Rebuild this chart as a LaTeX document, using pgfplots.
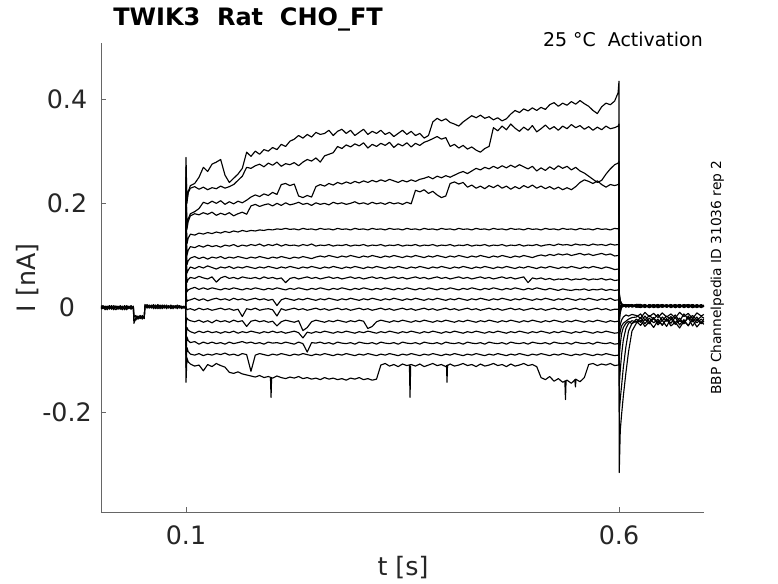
\documentclass[border=0pt]{standalone}
\usepackage{pgfplots}
\pgfplotsset{compat=1.18}
\usepackage{pgfplotstable}
\usepackage{fontspec}
\setmainfont{DejaVu Sans}

\pgfplotstableread{
t p1 p2 p3 p4
0.0018 0.002 -0.003 0.004 -0.001
0.0040 -0.002 0.003 -0.001 0.004
0.0065 0.003 -0.004 0.002 0.000
0.0090 -0.001 0.002 -0.004 0.003
0.0115 0.004 0.000 0.003 -0.003
0.0140 -0.003 0.004 -0.002 0.002
0.0165 0.001 -0.002 0.004 -0.004
0.0190 -0.004 0.003 0.000 0.003
0.0215 0.002 -0.003 0.003 -0.002
0.0240 -0.002 0.004 -0.003 0.001
0.0265 0.003 -0.001 0.002 -0.004
0.0290 -0.003 0.002 -0.004 0.004
0.0315 0.004 -0.004 0.001 -0.001
0.0340 -0.001 0.003 -0.002 0.002
0.0365 0.002 -0.002 0.004 -0.003
0.0392 -0.002 0.001 -0.001 0.003
0.0398 -0.030 -0.018 -0.022 -0.016
0.0420 -0.020 -0.015 -0.024 -0.018
0.0445 -0.016 -0.022 -0.017 -0.021
0.0470 -0.021 -0.016 -0.020 -0.015
0.0495 -0.017 -0.020 -0.015 -0.022
0.0518 -0.019 -0.016 -0.021 -0.017
0.0525 0.006 0.002 0.005 0.001
0.0550 0.001 0.006 -0.001 0.004
0.0575 0.005 -0.001 0.004 0.000
0.0600 -0.001 0.004 0.001 0.005
0.0625 0.004 0.000 0.006 -0.002
0.0650 0.000 0.005 -0.002 0.003
0.0675 0.006 -0.002 0.003 0.001
0.0700 -0.002 0.003 0.000 0.005
0.0725 0.003 0.001 0.005 -0.002
0.0750 0.000 0.005 -0.001 0.003
0.0775 0.005 -0.002 0.003 0.000
0.0800 -0.001 0.003 0.000 0.004
0.0825 0.004 0.000 0.005 -0.002
0.0850 0.000 0.004 -0.002 0.003
0.0875 0.003 -0.001 0.004 0.001
0.0900 -0.002 0.005 0.000 0.004
0.0925 0.004 0.001 0.003 -0.001
0.0950 0.000 0.003 -0.002 0.002
0.0975 0.003 -0.001 0.002 0.000
0.0995 0.000 0.000 0.000 0.000
}\pretab

\pgfplotstableread{
t a b c d e f g h i j k l m n o p q
0.0995 0.000 0.000 0.000 0.000 0.000 0.000 0.000 0.000 0.000 0.000 0.000 0.000 0.000 0.000 0.000 0.000 0.000
0.1000 0.288 0.270 0.250 0.230 0.210 0.180 0.150 0.120 0.090 0.060 0.030 0.002 -0.030 -0.060 -0.090 -0.115 -0.143
0.1010 0.205 0.200 0.160 0.150 0.122 0.100 0.082 0.066 0.048 0.030 0.012 -0.004 -0.020 -0.038 -0.056 -0.076 -0.096
0.1025 0.222 0.220 0.170 0.165 0.133 0.110 0.090 0.072 0.054 0.034 0.014 -0.003 -0.023 -0.043 -0.063 -0.084 -0.104
0.105 0.234 0.229 0.180 0.176 0.141 0.117 0.095 0.078 0.058 0.036 0.015 -0.002 -0.025 -0.046 -0.067 -0.089 -0.108
0.110 0.238 0.232 0.184 0.180 0.139 0.115 0.098 0.075 0.056 0.039 0.018 -0.005 -0.027 -0.049 -0.065 -0.091 -0.112
0.115 0.250 0.227 0.190 0.178 0.143 0.119 0.094 0.079 0.060 0.035 0.014 -0.001 -0.024 -0.045 -0.070 -0.088 -0.110
0.120 0.269 0.231 0.202 0.182 0.141 0.116 0.097 0.076 0.057 0.038 0.017 -0.004 -0.028 -0.048 -0.066 -0.092 -0.121
0.125 0.261 0.226 0.199 0.179 0.144 0.120 0.093 0.080 0.055 0.035 0.013 -0.002 -0.025 -0.045 -0.069 -0.089 -0.109
0.130 0.275 0.230 0.204 0.183 0.142 0.117 0.097 0.077 0.059 0.038 0.016 -0.005 -0.029 -0.048 -0.066 -0.091 -0.113
0.135 0.279 0.228 0.200 0.177 0.145 0.119 0.095 0.074 0.049 0.036 0.018 -0.003 -0.024 -0.046 -0.069 -0.088 -0.107
0.140 0.284 0.233 0.205 0.181 0.143 0.116 0.098 0.078 0.057 0.034 0.015 -0.001 -0.027 -0.049 -0.067 -0.090 -0.111
0.145 0.254 0.229 0.198 0.178 0.146 0.120 0.094 0.076 0.060 0.037 0.017 -0.004 -0.025 -0.046 -0.070 -0.087 -0.114
0.150 0.240 0.232 0.203 0.182 0.144 0.118 0.097 0.079 0.056 0.035 0.014 -0.002 -0.028 -0.048 -0.066 -0.091 -0.124
0.155 0.248 0.236 0.199 0.176 0.147 0.121 0.095 0.075 0.058 0.038 0.018 -0.005 -0.024 -0.045 -0.069 -0.089 -0.126
0.160 0.256 0.244 0.204 0.180 0.145 0.117 0.098 0.078 0.055 0.036 0.015 -0.003 -0.027 -0.049 -0.067 -0.092 -0.123
0.165 0.267 0.252 0.201 0.183 0.148 0.120 0.096 0.076 0.059 0.034 0.017 -0.017 -0.025 -0.046 -0.065 -0.088 -0.127
0.170 0.298 0.269 0.206 0.179 0.146 0.118 0.094 0.079 0.057 0.037 0.014 -0.002 -0.036 -0.048 -0.068 -0.090 -0.129
0.175 0.290 0.267 0.212 0.195 0.148 0.121 0.097 0.077 0.056 0.035 0.016 -0.004 -0.026 -0.045 -0.066 -0.122 -0.131
0.180 0.300 0.272 0.216 0.198 0.147 0.119 0.095 0.075 0.058 0.038 0.018 -0.001 -0.024 -0.047 -0.069 -0.091 -0.133
0.185 0.294 0.275 0.213 0.194 0.149 0.122 0.098 0.078 0.055 0.036 0.015 -0.005 -0.027 -0.049 -0.067 -0.088 -0.130
0.190 0.303 0.270 0.218 0.197 0.148 0.118 0.096 0.076 0.059 0.034 0.017 -0.003 -0.025 -0.046 -0.070 -0.090 -0.134
0.195 0.300 0.277 0.215 0.199 0.150 0.121 0.094 0.079 0.056 0.037 0.014 -0.002 -0.028 -0.048 -0.066 -0.092 -0.132
0.200 0.307 0.273 0.221 0.195 0.149 0.119 0.097 0.077 0.058 0.035 0.016 -0.004 -0.026 -0.045 -0.068 -0.089 -0.135
0.205 0.303 0.279 0.217 0.200 0.151 0.122 0.095 0.075 0.055 0.038 0.004 -0.016 -0.035 -0.048 -0.067 -0.091 -0.131
0.210 0.313 0.271 0.236 0.196 0.150 0.118 0.098 0.078 0.057 0.036 0.015 -0.002 -0.027 -0.046 -0.069 -0.088 -0.134
0.215 0.309 0.276 0.238 0.201 0.152 0.121 0.096 0.076 0.048 0.034 0.018 -0.005 -0.024 -0.049 -0.066 -0.090 -0.136
0.220 0.319 0.274 0.234 0.197 0.150 0.119 0.094 0.079 0.056 0.037 0.016 -0.003 -0.026 -0.047 -0.068 -0.092 -0.133
0.225 0.323 0.278 0.237 0.199 0.151 0.120 0.097 0.077 0.058 0.035 0.014 -0.001 -0.028 -0.045 -0.070 -0.089 -0.135
0.230 0.330 0.272 0.214 0.202 0.149 0.118 0.095 0.075 0.055 0.038 0.017 -0.004 -0.025 -0.048 -0.066 -0.091 -0.132
0.235 0.325 0.279 0.211 0.198 0.152 0.121 0.098 0.078 0.057 0.036 0.015 -0.002 -0.044 -0.058 -0.069 -0.088 -0.136
0.240 0.332 0.284 0.215 0.200 0.150 0.119 0.096 0.076 0.059 0.034 0.018 -0.005 -0.038 -0.047 -0.085 -0.090 -0.134
0.245 0.327 0.281 0.212 0.196 0.151 0.122 0.094 0.079 0.056 0.037 0.016 -0.003 -0.027 -0.049 -0.067 -0.092 -0.137
0.250 0.336 0.287 0.232 0.201 0.149 0.118 0.097 0.077 0.058 0.035 0.014 -0.001 -0.024 -0.046 -0.068 -0.089 -0.135
0.255 0.332 0.279 0.236 0.198 0.152 0.120 0.099 0.075 0.055 0.038 0.017 -0.004 -0.026 -0.048 -0.066 -0.091 -0.138
0.260 0.334 0.291 0.233 0.200 0.150 0.119 0.097 0.078 0.057 0.036 0.015 -0.002 -0.028 -0.045 -0.069 -0.088 -0.134
0.265 0.340 0.294 0.238 0.197 0.151 0.121 0.100 0.076 0.059 0.034 0.018 -0.005 -0.025 -0.047 -0.067 -0.090 -0.137
0.270 0.330 0.297 0.235 0.202 0.149 0.118 0.098 0.079 0.056 0.037 0.016 -0.003 -0.027 -0.049 -0.070 -0.092 -0.135
0.275 0.338 0.309 0.240 0.199 0.152 0.120 0.096 0.077 0.058 0.035 0.014 -0.001 -0.024 -0.046 -0.066 -0.089 -0.138
0.280 0.342 0.305 0.237 0.201 0.150 0.119 0.099 0.075 0.055 0.038 0.017 -0.004 -0.026 -0.048 -0.068 -0.091 -0.136
0.285 0.334 0.312 0.241 0.198 0.151 0.121 0.097 0.078 0.057 0.036 0.015 -0.002 -0.028 -0.045 -0.069 -0.088 -0.139
0.290 0.340 0.308 0.238 0.200 0.149 0.118 0.100 0.076 0.059 0.034 0.018 -0.005 -0.025 -0.047 -0.067 -0.090 -0.135
0.295 0.330 0.314 0.242 0.203 0.152 0.120 0.098 0.079 0.056 0.037 0.016 -0.003 -0.027 -0.049 -0.070 -0.092 -0.137
0.300 0.336 0.310 0.239 0.199 0.150 0.119 0.096 0.077 0.058 0.035 0.014 -0.001 -0.024 -0.046 -0.066 -0.089 -0.134
0.305 0.342 0.316 0.243 0.201 0.151 0.121 0.099 0.075 0.055 0.038 0.017 -0.004 -0.026 -0.048 -0.068 -0.091 -0.138
0.310 0.332 0.306 0.240 0.198 0.149 0.118 0.097 0.078 0.057 0.036 0.015 -0.002 -0.040 -0.045 -0.069 -0.088 -0.136
0.315 0.338 0.313 0.244 0.202 0.152 0.120 0.100 0.076 0.059 0.034 0.018 -0.005 -0.036 -0.047 -0.067 -0.090 -0.139
0.320 0.334 0.309 0.241 0.199 0.150 0.119 0.098 0.079 0.056 0.037 0.016 -0.003 -0.027 -0.049 -0.070 -0.092 -0.137
0.325 0.340 0.315 0.245 0.201 0.151 0.121 0.096 0.077 0.058 0.035 0.014 -0.001 -0.024 -0.046 -0.066 -0.089 -0.110
0.330 0.332 0.311 0.242 0.198 0.149 0.118 0.099 0.075 0.055 0.038 0.017 -0.004 -0.026 -0.048 -0.068 -0.091 -0.107
0.335 0.336 0.317 0.246 0.202 0.152 0.120 0.097 0.078 0.057 0.036 0.015 -0.002 -0.028 -0.045 -0.069 -0.088 -0.112
0.340 0.328 0.307 0.243 0.199 0.150 0.119 0.100 0.076 0.059 0.034 0.018 -0.005 -0.025 -0.047 -0.067 -0.090 -0.109
0.345 0.334 0.314 0.240 0.201 0.151 0.121 0.098 0.079 0.056 0.037 0.016 -0.003 -0.027 -0.049 -0.070 -0.092 -0.113
0.350 0.340 0.310 0.244 0.198 0.149 0.118 0.096 0.077 0.058 0.035 0.014 -0.001 -0.024 -0.046 -0.066 -0.089 -0.108
0.355 0.332 0.316 0.241 0.202 0.152 0.120 0.099 0.075 0.055 0.038 0.017 -0.004 -0.026 -0.048 -0.068 -0.091 -0.111
0.360 0.338 0.308 0.245 0.199 0.150 0.119 0.097 0.078 0.057 0.036 0.015 -0.002 -0.028 -0.045 -0.069 -0.088 -0.109
0.365 0.330 0.315 0.242 0.225 0.151 0.121 0.100 0.076 0.059 0.034 0.018 -0.005 -0.025 -0.047 -0.067 -0.090 -0.112
0.370 0.334 0.311 0.246 0.222 0.149 0.118 0.098 0.079 0.056 0.037 0.016 -0.003 -0.027 -0.049 -0.070 -0.092 -0.108
0.375 0.325 0.317 0.248 0.226 0.152 0.120 0.096 0.077 0.058 0.035 0.014 -0.001 -0.024 -0.046 -0.066 -0.089 -0.113
0.380 0.330 0.320 0.251 0.219 0.150 0.119 0.099 0.075 0.055 0.038 0.017 -0.004 -0.026 -0.048 -0.068 -0.091 -0.110
0.385 0.356 0.324 0.247 0.223 0.151 0.121 0.097 0.078 0.057 0.036 0.015 -0.002 -0.028 -0.045 -0.069 -0.088 -0.107
0.390 0.363 0.328 0.252 0.216 0.149 0.118 0.100 0.076 0.059 0.034 0.018 -0.005 -0.025 -0.047 -0.067 -0.090 -0.111
0.395 0.358 0.323 0.249 0.211 0.152 0.120 0.098 0.079 0.056 0.037 0.016 -0.003 -0.027 -0.049 -0.070 -0.092 -0.109
0.400 0.362 0.326 0.253 0.214 0.150 0.119 0.096 0.077 0.058 0.035 0.014 -0.001 -0.024 -0.046 -0.066 -0.089 -0.113
0.405 0.355 0.309 0.250 0.238 0.151 0.121 0.099 0.075 0.055 0.038 0.017 -0.004 -0.026 -0.048 -0.068 -0.091 -0.108
0.410 0.352 0.313 0.254 0.241 0.149 0.118 0.097 0.078 0.057 0.036 0.015 -0.002 -0.028 -0.045 -0.069 -0.088 -0.112
0.415 0.348 0.306 0.258 0.237 0.152 0.120 0.100 0.076 0.059 0.034 0.018 -0.005 -0.025 -0.047 -0.067 -0.090 -0.110
0.420 0.356 0.311 0.261 0.240 0.150 0.119 0.098 0.079 0.056 0.037 0.016 -0.003 -0.027 -0.049 -0.070 -0.092 -0.107
0.425 0.362 0.304 0.257 0.231 0.151 0.121 0.096 0.077 0.058 0.035 0.014 -0.001 -0.024 -0.046 -0.066 -0.089 -0.111
0.430 0.368 0.308 0.262 0.235 0.149 0.118 0.099 0.075 0.055 0.038 0.017 -0.004 -0.026 -0.048 -0.068 -0.091 -0.109
0.435 0.364 0.302 0.267 0.229 0.152 0.120 0.097 0.078 0.057 0.036 0.015 -0.002 -0.028 -0.045 -0.069 -0.088 -0.113
0.440 0.369 0.298 0.264 0.233 0.150 0.119 0.100 0.076 0.059 0.034 0.018 -0.005 -0.025 -0.047 -0.067 -0.090 -0.108
0.445 0.363 0.305 0.269 0.228 0.151 0.121 0.098 0.079 0.056 0.037 0.016 -0.003 -0.027 -0.049 -0.070 -0.092 -0.112
0.450 0.366 0.309 0.266 0.234 0.149 0.118 0.096 0.077 0.058 0.035 0.014 -0.001 -0.024 -0.046 -0.066 -0.089 -0.110
0.455 0.360 0.345 0.271 0.230 0.152 0.120 0.099 0.075 0.055 0.038 0.017 -0.004 -0.026 -0.048 -0.068 -0.091 -0.107
0.460 0.364 0.339 0.267 0.235 0.150 0.119 0.097 0.078 0.057 0.036 0.015 -0.002 -0.028 -0.045 -0.069 -0.088 -0.111
0.465 0.358 0.348 0.272 0.229 0.151 0.121 0.100 0.076 0.059 0.034 0.018 -0.005 -0.025 -0.047 -0.067 -0.090 -0.109
0.470 0.362 0.341 0.268 0.233 0.149 0.118 0.098 0.079 0.056 0.037 0.016 -0.003 -0.027 -0.049 -0.070 -0.092 -0.113
0.475 0.371 0.352 0.273 0.227 0.152 0.120 0.096 0.077 0.058 0.035 0.014 -0.001 -0.024 -0.046 -0.066 -0.089 -0.108
0.480 0.378 0.344 0.269 0.232 0.150 0.119 0.099 0.075 0.055 0.038 0.017 -0.004 -0.026 -0.048 -0.068 -0.091 -0.112
0.485 0.374 0.338 0.274 0.228 0.151 0.121 0.097 0.078 0.057 0.036 0.015 -0.002 -0.028 -0.045 -0.069 -0.088 -0.110
0.490 0.381 0.346 0.270 0.234 0.149 0.118 0.100 0.076 0.059 0.034 0.018 -0.005 -0.025 -0.047 -0.067 -0.090 -0.107
0.495 0.377 0.340 0.266 0.230 0.152 0.120 0.098 0.079 0.048 0.037 0.016 -0.003 -0.027 -0.049 -0.070 -0.092 -0.111
0.500 0.383 0.349 0.271 0.235 0.150 0.119 0.096 0.077 0.057 0.035 0.014 -0.001 -0.024 -0.046 -0.066 -0.089 -0.109
0.505 0.378 0.337 0.262 0.229 0.151 0.121 0.099 0.075 0.055 0.038 0.017 -0.004 -0.026 -0.048 -0.068 -0.091 -0.113
0.510 0.384 0.343 0.268 0.233 0.149 0.118 0.101 0.078 0.057 0.036 0.015 -0.002 -0.028 -0.045 -0.069 -0.088 -0.134
0.515 0.380 0.350 0.263 0.228 0.152 0.120 0.099 0.076 0.054 0.034 0.018 -0.005 -0.025 -0.047 -0.067 -0.090 -0.138
0.520 0.389 0.342 0.270 0.232 0.150 0.121 0.102 0.079 0.056 0.037 0.016 -0.003 -0.027 -0.049 -0.070 -0.092 -0.132
0.525 0.393 0.347 0.265 0.227 0.151 0.119 0.100 0.077 0.053 0.035 0.014 -0.001 -0.024 -0.046 -0.066 -0.089 -0.141
0.530 0.386 0.340 0.272 0.231 0.149 0.122 0.103 0.075 0.055 0.033 0.017 -0.004 -0.026 -0.048 -0.068 -0.091 -0.136
0.535 0.392 0.348 0.267 0.226 0.152 0.120 0.101 0.078 0.054 0.036 0.015 -0.002 -0.028 -0.045 -0.069 -0.088 -0.143
0.540 0.388 0.343 0.271 0.230 0.150 0.121 0.103 0.076 0.056 0.034 0.018 -0.005 -0.025 -0.047 -0.067 -0.090 -0.139
0.545 0.395 0.351 0.264 0.226 0.151 0.119 0.100 0.079 0.053 0.033 0.016 -0.003 -0.027 -0.049 -0.070 -0.092 -0.145
0.550 0.390 0.345 0.269 0.232 0.149 0.122 0.102 0.077 0.055 0.035 0.014 -0.001 -0.024 -0.046 -0.066 -0.089 -0.137
0.555 0.397 0.349 0.262 0.240 0.152 0.120 0.104 0.075 0.054 0.034 0.017 -0.004 -0.026 -0.048 -0.068 -0.091 -0.142
0.560 0.391 0.342 0.258 0.245 0.150 0.121 0.101 0.078 0.056 0.036 0.015 -0.002 -0.028 -0.045 -0.069 -0.088 -0.134
0.565 0.386 0.347 0.252 0.242 0.151 0.119 0.103 0.076 0.053 0.033 0.018 -0.005 -0.025 -0.047 -0.067 -0.090 -0.109
0.570 0.378 0.340 0.246 0.238 0.149 0.122 0.100 0.079 0.055 0.035 0.016 -0.003 -0.027 -0.049 -0.070 -0.092 -0.107
0.575 0.372 0.346 0.240 0.243 0.152 0.120 0.102 0.077 0.054 0.034 0.014 -0.001 -0.024 -0.046 -0.066 -0.089 -0.111
0.580 0.385 0.341 0.244 0.236 0.150 0.121 0.104 0.075 0.056 0.036 0.017 -0.004 -0.026 -0.048 -0.068 -0.091 -0.108
0.585 0.392 0.348 0.256 0.231 0.151 0.119 0.101 0.078 0.053 0.033 0.015 -0.002 -0.028 -0.045 -0.069 -0.088 -0.110
0.590 0.389 0.343 0.266 0.236 0.149 0.122 0.103 0.076 0.055 0.035 0.018 -0.005 -0.025 -0.047 -0.067 -0.090 -0.107
0.595 0.396 0.345 0.274 0.234 0.152 0.120 0.099 0.073 0.052 0.033 0.014 -0.003 -0.027 -0.049 -0.070 -0.092 -0.111
0.5990 0.412 0.348 0.277 0.236 0.151 0.121 0.100 0.074 0.053 0.034 0.015 -0.003 -0.026 -0.048 -0.069 -0.091 -0.110
0.6000 0.434 0.352 0.280 0.238 0.153 0.122 0.101 0.075 0.054 0.033 0.015 -0.003 -0.026 -0.047 -0.069 -0.090 -0.110
0.6003 -0.316 -0.200 -0.150 -0.095 -0.060 -0.045 -0.030 -0.020 -0.012 -0.006 -0.002 0.002 0.010 0.016 0.022 0.026 0.030
0.6015 -0.235 -0.175 -0.120 -0.070 -0.045 -0.032 -0.010 -0.004 0.000 0.002 0.003 0.004 0.008 0.010 0.012 0.013 0.014
0.6030 -0.205 -0.150 -0.090 -0.050 -0.035 -0.024 0.000 0.002 0.004 0.003 0.005 0.004 0.006 0.005 0.007 0.006 0.008
0.6050 -0.170 -0.115 -0.062 -0.038 -0.030 -0.018 0.003 0.005 0.002 0.006 0.004 0.003 0.005 0.004 0.006 0.003 0.005
0.6080 -0.125 -0.075 -0.040 -0.030 -0.026 -0.014 0.002 0.006 0.004 0.001 0.005 0.002 0.004 0.006 0.003 0.005 0.002
0.6110 -0.085 -0.045 -0.030 -0.026 -0.022 -0.016 0.005 0.002 0.006 0.004 0.001 0.005 0.003 0.002 0.006 0.004 0.005
0.6150 -0.045 -0.030 -0.025 -0.031 -0.019 -0.013 0.003 0.005 0.001 0.006 0.004 0.002 0.005 0.003 0.002 0.006 0.003
0.6200 -0.030 -0.026 -0.028 -0.022 -0.018 -0.015 0.006 0.001 0.004 0.002 0.005 0.003 0.001 0.006 0.004 0.002 0.005
0.625 -0.024 -0.034 -0.019 -0.028 -0.012 -0.020 0.004 0.001 0.006 0.002 0.005 0.000 0.003 0.006 0.001 0.004 0.002
0.630 -0.036 -0.022 -0.031 -0.016 -0.024 -0.009 0.001 0.005 0.002 0.006 0.000 0.004 0.006 0.002 0.005 0.001 0.004
0.635 -0.027 -0.031 -0.020 -0.027 -0.015 -0.017 0.005 0.002 0.004 0.000 0.006 0.003 0.001 0.005 0.002 0.006 0.000
0.640 -0.038 -0.020 -0.029 -0.019 -0.022 -0.011 0.002 0.006 0.001 0.004 0.002 0.005 0.004 0.000 0.006 0.003 0.005
0.645 -0.025 -0.033 -0.022 -0.030 -0.013 -0.019 0.006 0.000 0.005 0.003 0.004 0.001 0.006 0.003 0.000 0.005 0.002
0.650 -0.033 -0.024 -0.034 -0.018 -0.025 -0.010 0.001 0.004 0.002 0.006 0.001 0.005 0.002 0.006 0.004 0.001 0.006
0.655 -0.022 -0.036 -0.021 -0.026 -0.016 -0.018 0.004 0.002 0.006 0.001 0.005 0.002 0.004 0.001 0.005 0.003 0.001
0.660 -0.035 -0.021 -0.030 -0.017 -0.023 -0.012 0.002 0.005 0.000 0.004 0.003 0.006 0.001 0.005 0.002 0.006 0.004
0.665 -0.028 -0.032 -0.018 -0.029 -0.014 -0.020 0.005 0.001 0.004 0.002 0.006 0.000 0.005 0.003 0.006 0.000 0.003
0.670 -0.039 -0.025 -0.033 -0.020 -0.026 -0.009 0.000 0.006 0.003 0.005 0.001 0.004 0.002 0.006 0.001 0.005 0.006
0.675 -0.026 -0.030 -0.023 -0.031 -0.012 -0.017 0.006 0.002 0.005 0.001 0.004 0.003 0.006 0.000 0.004 0.002 0.001
0.680 -0.034 -0.019 -0.035 -0.016 -0.022 -0.011 0.003 0.005 0.001 0.006 0.002 0.005 0.000 0.004 0.006 0.003 0.005
0.685 -0.023 -0.035 -0.020 -0.027 -0.015 -0.021 0.005 0.000 0.006 0.003 0.005 0.001 0.004 0.002 0.000 0.006 0.002
0.690 -0.037 -0.023 -0.029 -0.018 -0.024 -0.010 0.001 0.004 0.002 0.005 0.000 0.006 0.003 0.005 0.003 0.001 0.004
0.695 -0.027 -0.031 -0.022 -0.030 -0.017 -0.016 0.004 0.002 0.005 0.001 0.006 0.002 0.005 0.001 0.005 0.004 0.000
0.698 -0.032 -0.026 -0.027 -0.021 -0.020 -0.013 0.002 0.005 0.003 0.004 0.002 0.004 0.002 0.004 0.002 0.003 0.003
}\steptab

\tikzset{trace/.style={black, line width=0.85pt, mark=none, line join=round}}

\begin{document}
\begin{tikzpicture}
\useasboundingbox (-75.75pt,-53.25pt) rectangle (507.75pt,384pt);
\begin{axis}[
  at={(0pt,0pt)}, anchor=south west,
  scale only axis, width=452.25pt, height=351.75pt,
  xmin=0.0018, xmax=0.6982, ymin=-0.3917, ymax=0.5073,
  axis lines=left,
  axis line style={-, draw=black!60, line width=0.6pt},
  xtick={0.1,0.6}, xticklabels={0.1,0.6},
  ytick={-0.2,0,0.2,0.4}, yticklabels={-0.2,0,0.2,0.4},
  tick align=inside, major tick length=3.75pt,
  tick style={draw=black!60, line width=0.6pt},
  tick label style={font=\fontsize{19}{19}\selectfont, text=black!85},
  xticklabel style={anchor=center, yshift=-17.25pt},
  yticklabel style={anchor=center, xshift=-25.5pt},
]
\pgfplotsinvokeforeach{p1,p2,p3,p4}{\addplot[trace] table[x=t,y=#1]{\pretab};}
\pgfplotsinvokeforeach{a,b,c,d,e,f,g,h,i,j,k,l,m,n,o,p,q}{\addplot[trace] table[x=t,y=#1]{\steptab};}
\addplot[trace] coordinates {(0.1975,-0.134) (0.1982,-0.172) (0.1988,-0.135)};
\addplot[trace] coordinates {(0.3580,-0.110) (0.3587,-0.172) (0.3594,-0.111)};
\addplot[trace] coordinates {(0.4008,-0.110) (0.4014,-0.143) (0.4020,-0.109)};
\addplot[trace] coordinates {(0.5375,-0.140) (0.5382,-0.176) (0.5389,-0.141)};
\addplot[trace] coordinates {(0.5490,-0.138) (0.5497,-0.152) (0.5504,-0.137)};
\end{axis}
\node[anchor=base west, inner sep=0pt, font=\fontsize{18}{18}\selectfont\bfseries] at (9pt,364.5pt) {TWIK3~~Rat~~CHO\_FT};
\node[anchor=base east, inner sep=0pt, font=\fontsize{14.2}{14.2}\selectfont] at (451.5pt,348.75pt) {25 °C~~Activation};
\node[rotate=90, anchor=base, inner sep=0pt, font=\fontsize{10.35}{10.35}\selectfont] at (465pt,175.9pt) {BBP Channelpedia ID 31036 rep 2};
\node[rotate=90, anchor=center, inner sep=0pt, text=black!85, font=\fontsize{19}{19}\selectfont] at (-55.1pt,175.5pt) {I [nA]};
\node[anchor=center, inner sep=0pt, text=black!85, font=\fontsize{19}{19}\selectfont] at (226.5pt,-42pt) {t [s]};
\end{tikzpicture}
\end{document}
